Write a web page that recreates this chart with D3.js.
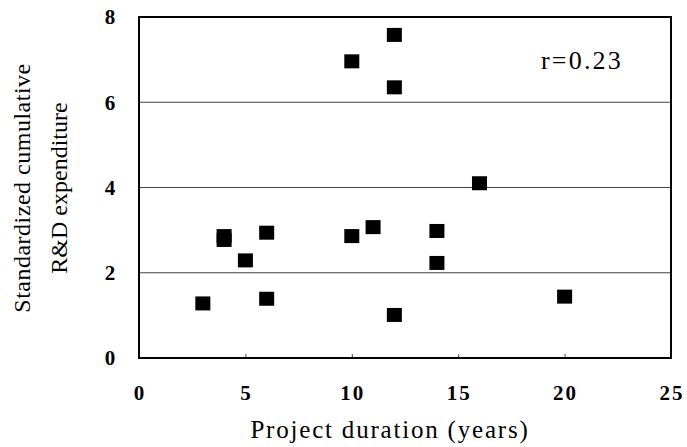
<!DOCTYPE html>
<html>
<head>
<meta charset="utf-8">
<script src="https://cdn.jsdelivr.net/npm/d3@7"></script>
<style>
  body { margin: 0; background: #fff; }
</style>
</head>
<body>
<div id="chart"></div>
<script>
// project duration (years) vs standardized cumulative R&D expenditure
const duration = [3, 4, 4, 5, 6, 6, 10, 10, 11, 12, 12, 12, 14, 14, 16, 20]
const expenditure = [1.28, 2.77, 2.86, 2.29, 2.94, 1.39, 6.96, 2.86, 3.07, 7.58, 6.35, 1.01, 2.98, 2.23, 4.10, 1.44]
const xTicks = [0, 5, 10, 15, 20, 25]
const yTicks = [0, 2, 4, 6, 8]
const gridLines = [2, 4, 6]
const corrLabel = 'r=0.23'

const width = 687
const height = 447
const margin = {top: 17, right: 16, bottom: 89, left: 139}
const serif = 'Liberation Serif, Times New Roman, Times, serif'

const points = duration.map((d, i) => ({x: d, y: expenditure[i]}))

const x = d3.scaleLinear().domain([0, 25]).range([margin.left, width - margin.right])
const y = d3.scaleLinear().domain([0, 8]).range([height - margin.bottom, margin.top])

const svg = d3.select('#chart').append('svg')
  .attr('width', width)
  .attr('height', height)
  .attr('font-family', serif)

svg.append('rect')
  .attr('width', width)
  .attr('height', height)
  .attr('fill', '#fff')

// grid
svg.append('g').attr('class', 'grid')
  .selectAll('line')
  .data(gridLines)
  .enter()
  .append('line')
  .attr('x1', x(0))
  .attr('x2', x(25))
  .attr('y1', d => y(d))
  .attr('y2', d => y(d))
  .attr('stroke', '#444')
  .attr('stroke-width', 1.2)

// bottom axis: inner ticks, labels drawn separately
const xAxis = d3.axisBottom(x).tickValues(xTicks.slice(1, -1)).tickSize(-4).tickFormat('')
svg.append('g')
  .attr('transform', `translate(0, ${y(0)})`)
  .call(xAxis)
  .call(g => g.select('.domain').remove())
  .call(g => g.selectAll('.tick line').attr('stroke', '#444'))

svg.append('g').attr('class', 'x-labels')
  .selectAll('text')
  .data(xTicks)
  .enter()
  .append('text')
  .attr('font-family', serif)
  .attr('x', d => x(d) + 1)
  .attr('y', y(0) + 42)
  .attr('text-anchor', 'middle')
  .attr('font-size', 21)
  .attr('font-weight', 'bold')
  .attr('letter-spacing', 2)
  .text(d => d)

svg.append('g').attr('class', 'y-labels')
  .selectAll('text')
  .data(yTicks)
  .enter()
  .append('text')
  .attr('font-family', serif)
  .attr('x', x(0) - 29)
  .attr('y', d => y(d))
  .attr('dy', '0.35em')
  .attr('text-anchor', 'middle')
  .attr('font-size', 21)
  .attr('font-weight', 'bold')
  .text(d => d)

// frame
svg.append('rect')
  .attr('x', x(0))
  .attr('y', y(8))
  .attr('width', x(25) - x(0))
  .attr('height', y(0) - y(8))
  .attr('fill', 'none')
  .attr('stroke', '#000')
  .attr('stroke-width', 2)

// points
svg.append('g').attr('class', 'points')
  .selectAll('rect')
  .data(points)
  .enter()
  .append('rect')
  .attr('x', d => x(d.x) - 7.5)
  .attr('y', d => y(d.y) - 7)
  .attr('width', 15)
  .attr('height', 14)
  .attr('fill', '#000')

svg.append('text')
  .attr('font-family', serif)
  .attr('x', 541)
  .attr('y', 69)
  .attr('font-size', 26)
  .attr('letter-spacing', 2.2)
  .text(corrLabel)

svg.append('text')
  .attr('font-family', serif)
  .attr('x', 390)
  .attr('y', 438)
  .attr('text-anchor', 'middle')
  .attr('font-size', 25)
  .attr('letter-spacing', 1.8)
  .text('Project duration (years)')

const yTitle = svg.append('text')
  .attr('font-family', serif)
  .attr('transform', 'translate(30, 188) rotate(-90)')
  .attr('text-anchor', 'middle')
  .attr('font-size', 24)
yTitle.append('tspan').attr('x', 0).attr('y', 0).attr('letter-spacing', 0.5).text('Standardized cumulative')
yTitle.append('tspan').attr('x', 0).attr('y', 37).text('R&D expenditure')
</script>
</body>
</html>
